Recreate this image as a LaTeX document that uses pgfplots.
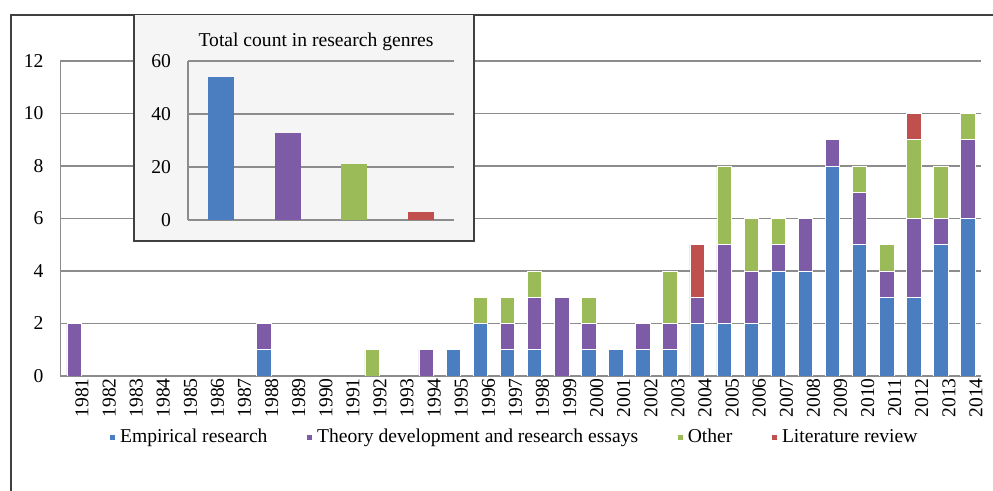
\documentclass[border=0pt]{standalone}
\usepackage{pgfplots}
\pgfplotsset{compat=1.18}
\usepackage{pgfplotstable}
\usepackage{fontspec}
\setmainfont{Liberation Serif}
\definecolor{cE}{HTML}{4A7EC0}
\definecolor{cT}{HTML}{7D5BA6}
\definecolor{cO}{HTML}{9BBB59}
\definecolor{cL}{HTML}{C0504D}
\definecolor{gridc}{HTML}{8C8C8C}
\pgfplotstableread{
x E T O L
0 0 2 0 0
1 0 0 0 0
2 0 0 0 0
3 0 0 0 0
4 0 0 0 0
5 0 0 0 0
6 0 0 0 0
7 1 1 0 0
8 0 0 0 0
9 0 0 0 0
10 0 0 0 0
11 0 0 1 0
12 0 0 0 0
13 0 1 0 0
14 1 0 0 0
15 2 0 1 0
16 1 1 1 0
17 1 2 1 0
18 0 3 0 0
19 1 1 1 0
20 1 0 0 0
21 1 1 0 0
22 1 1 2 0
23 2 1 0 2
24 2 3 3 0
25 2 2 2 0
26 4 1 1 0
27 4 2 0 0
28 8 1 0 0
29 5 2 1 0
30 3 1 1 0
31 3 3 3 1
32 5 1 2 0
33 6 3 1 0
}\yeardata
\begin{document}
\begin{tikzpicture}[font=\fontsize{9.8}{12}\selectfont]
\path[use as bounding box] (0,0) rectangle (496.5pt,245.5pt);
% outer frame
\draw[line width=1pt, black!75] (5.5pt,0pt) -- (5.5pt,238pt) -- (496.5pt,238pt);
\begin{axis}[
  at={(30.25pt,57.5pt)}, anchor=south west,
  scale only axis, width=460.5pt, height=157.5pt,
  xmin=-0.5, xmax=33.5, ymin=0, ymax=12,
  ybar stacked, bar width=7.2pt,
  ytick={0,2,...,12},
  xtick={0,...,33},
  xticklabels={1981,1982,1983,1984,1985,1986,1987,1988,1989,1990,1991,1992,1993,1994,1995,1996,1997,1998,1999,2000,2001,2002,2003,2004,2005,2006,2007,2008,2009,2010,2011,2012,2013,2014},
  xticklabel style={rotate=90, anchor=east, inner sep=1pt},
  x tick label style={yshift=-4pt},
  yticklabel style={xshift=-5pt},
  major tick length=0pt,
  axis x line*=bottom, axis y line*=left,
  axis line style={gridc, line width=0.8pt, -},
  ymajorgrids, grid style={gridc, line width=0.8pt},
  /pgf/number format/assume math mode=true,
  legend style={at={(0.494,-0.194)}, anchor=center, draw=none, fill=none,
    legend columns=4, /tikz/every even column/.append style={column sep=17.5pt},
    font=\fontsize{9.8}{12}\selectfont, inner sep=0pt},
  legend image code/.code={\fill[#1] (0pt,-1.5pt) rectangle (3pt,1.5pt);},
]
\addplot[fill=cE, draw=white, line width=0.3pt] table[x=x, y=E] {\yeardata};
\addplot[fill=cT, draw=white, line width=0.3pt] table[x=x, y=T] {\yeardata};
\addplot[fill=cO, draw=white, line width=0.3pt] table[x=x, y=O] {\yeardata};
\addplot[fill=cL, draw=white, line width=0.3pt] table[x=x, y=L] {\yeardata};
\legend{Empirical research, Theory development and research essays, Other, Literature review}
\end{axis}
% inset box
\fill[black!4] (67pt,125pt) rectangle (237pt,238pt);
\draw[line width=1pt, black!75] (67pt,238pt) -- (67pt,125pt) -- (237pt,125pt) -- (237pt,238pt);
\node at (158pt,224.5pt) {Total count in research genres};
\begin{axis}[
  at={(94pt,135.5pt)}, anchor=south west,
  scale only axis, width=133pt, height=79.5pt,
  xmin=-0.5, xmax=3.5, ymin=0, ymax=60,
  ytick={0,20,40,60}, xtick=\empty,
  major tick length=0pt,
  yticklabel style={xshift=-5pt},
  axis x line*=bottom, axis y line*=left,
  axis line style={gridc, line width=0.8pt, -},
  ymajorgrids, grid style={gridc, line width=0.8pt},
  /pgf/number format/assume math mode=true,
  ybar, bar width=13pt,
]
\addplot[fill=cE, draw=none, bar shift=0pt] coordinates {(0,54)};
\addplot[fill=cT, draw=none, bar shift=0pt] coordinates {(1,33)};
\addplot[fill=cO, draw=none, bar shift=0pt] coordinates {(2,21)};
\addplot[fill=cL, draw=none, bar shift=0pt] coordinates {(3,3)};
\end{axis}
\end{tikzpicture}
\end{document}
